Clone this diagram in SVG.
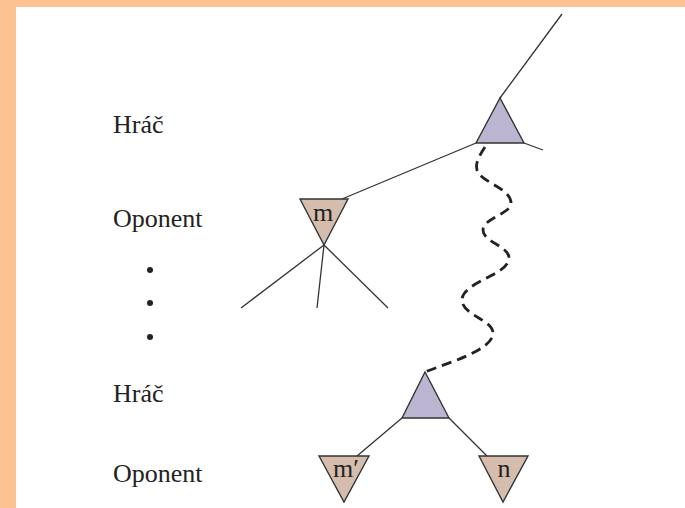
<svg xmlns="http://www.w3.org/2000/svg" width="685" height="508" viewBox="0 0 685 508">
<style>
.lbl{font-family:"Liberation Serif","Times New Roman",serif;font-size:26px;fill:#222}
.edge{stroke:#333;stroke-width:1.3;fill:none}
.max{fill:#bcb5d1;stroke:#333;stroke-width:1.4;stroke-linejoin:miter}
.min{fill:#d5bdae;stroke:#333;stroke-width:1.4;stroke-linejoin:miter}
.wave{stroke:#222;stroke-width:2.8;fill:none;stroke-dasharray:10,6}
</style>
<rect x="0" y="0" width="685" height="508" fill="#ffffff"/>
<rect x="0" y="0" width="685" height="7" fill="#fcc291"/>
<rect x="0" y="0" width="16" height="508" fill="#fcc291"/>
<g id="labels">
<text class="lbl" x="113" y="133">Hráč</text>
<text class="lbl" x="113" y="227">Oponent</text>
<circle cx="150" cy="270" r="3" fill="#222"/>
<circle cx="150" cy="303" r="3" fill="#222"/>
<circle cx="150" cy="337" r="3" fill="#222"/>
<text class="lbl" x="113" y="402">Hráč</text>
<text class="lbl" x="113" y="482">Oponent</text>
</g>
<g id="connectors">
<line class="edge" x1="500" y1="98" x2="562" y2="14"/>
<line class="edge" x1="524" y1="143" x2="543" y2="150"/>
<line class="edge" x1="476" y1="143" x2="342" y2="199"/>
<line class="edge" x1="324" y1="245" x2="241" y2="308"/>
<line class="edge" x1="324" y1="245" x2="317" y2="308"/>
<line class="edge" x1="324" y1="245" x2="388" y2="308"/>
<line class="edge" x1="402" y1="418" x2="357" y2="456"/>
<line class="edge" x1="449" y1="418" x2="487" y2="456"/>
<path class="wave" d="M485,147 C480,155 475,162 477,170 C480,182 511,188 511,203 C511,214 483,218 483,230 C483,242 509,246 509,258 C509,275 462,282 462,300 C462,315 493,320 493,333 C493,350 450,362 425,372"/>
</g>
<g id="node-top">
<polygon class="max" points="500,98 524,143 476,143"/>
</g>
<g id="node-m">
<polygon class="min" points="300,199 348,199 324,245"/>
<text class="lbl" x="323" y="221" text-anchor="middle">m</text>
</g>
<g id="node-bottom">
<polygon class="max" points="425,372 449,418 402,418"/>
</g>
<g id="node-m-prime">
<polygon class="min" points="319,456 369,456 344,502"/>
<text class="lbl" x="346" y="477" text-anchor="middle">m′</text>
</g>
<g id="node-n">
<polygon class="min" points="479,456 528,456 503,502"/>
<text class="lbl" x="504" y="477" text-anchor="middle">n</text>
</g>
</svg>
